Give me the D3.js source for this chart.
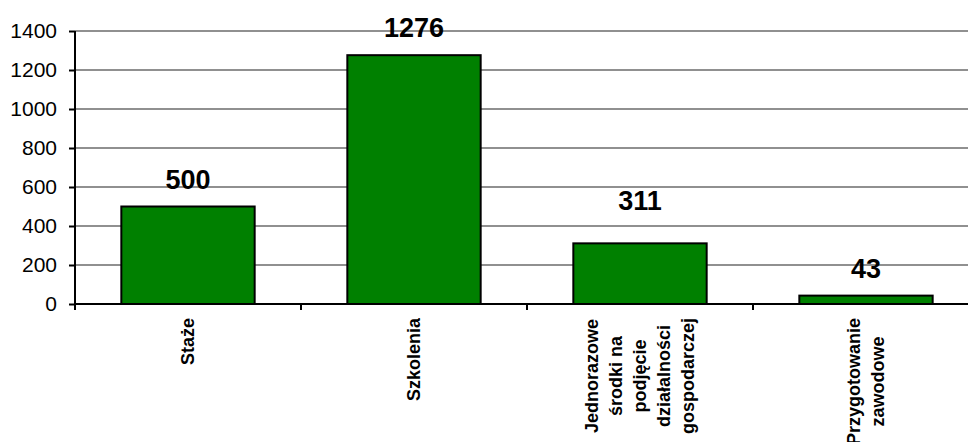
<!DOCTYPE html>
<html>
<head>
<meta charset="utf-8">
<script src="https://cdn.jsdelivr.net/npm/d3@7"></script>
<style>
  html, body { margin: 0; padding: 0; background: #fff; }
  svg { display: block; font-family: "Liberation Sans", Arial, sans-serif; }
</style>
</head>
<body>
<svg id="chart" width="968" height="442"></svg>
<script>
// ---- data ----
const categories = [
  ["Staże"],
  ["Szkolenia"],
  ["Jednorazowe", "środki na", "podjęcie", "działalności", "gospodarczej"],
  ["Przygotowanie", "zawodowe"]
];
const values = [500, 1276, 311, 43];
const yTicks = [0, 200, 400, 600, 800, 1000, 1200, 1400];

(function () {
// ---- layout ----
const svg = d3.select("#chart");
const mLeft = 75, mRight = 979, mTop = 31, mBottom = 304;
const keys = categories.map((c, i) => i);

const x = d3.scaleBand().domain(keys).range([mLeft, mRight])
  .paddingInner(0.41).paddingOuter(0.205);
const y = d3.scaleLinear().domain([0, 1400]).range([mBottom, mTop]);

// gridlines
svg.append("g").selectAll("line").data(yTicks.filter(t => t > 0)).join("line")
  .attr("x1", mLeft).attr("x2", 968)
  .attr("y1", d => y(d)).attr("y2", d => y(d))
  .attr("stroke", "#909090").attr("stroke-width", 2);

// bars
svg.append("g").selectAll("rect").data(values).join("rect")
  .attr("x", (d, i) => x(i))
  .attr("y", d => y(d))
  .attr("width", x.bandwidth())
  .attr("height", d => y(0) - y(d))
  .attr("fill", "#008000")
  .attr("stroke", "#000").attr("stroke-width", 2);

// y axis
const yAxis = d3.axisLeft(y).tickValues(yTicks).tickFormat(d3.format("d"))
  .tickSize(6).tickPadding(12).tickSizeOuter(0);
const gy = svg.append("g").attr("transform", `translate(${mLeft},0)`).call(yAxis);
gy.select(".domain").remove();
gy.selectAll(".tick line").attr("stroke", "#000").attr("stroke-width", 2);
gy.selectAll(".tick text").attr("font-size", 21).attr("fill", "#000")
  .attr("font-family", '"Liberation Sans", Arial, sans-serif');
svg.append("line").attr("x1", mLeft).attr("x2", mLeft)
  .attr("y1", mTop).attr("y2", mBottom + 6)
  .attr("stroke", "#000").attr("stroke-width", 2);

// x axis line
svg.append("line").attr("x1", mLeft).attr("x2", 968)
  .attr("y1", mBottom).attr("y2", mBottom)
  .attr("stroke", "#000").attr("stroke-width", 2);
// category boundary ticks
const gap = x.step() - x.bandwidth();
svg.append("g").selectAll("line").data(keys).join("line")
  .attr("x1", d => x(d) + x.bandwidth() + gap / 2)
  .attr("x2", d => x(d) + x.bandwidth() + gap / 2)
  .attr("y1", mBottom).attr("y2", mBottom + 6)
  .attr("stroke", "#000").attr("stroke-width", 2);

// value labels
const labelGap = [18, 18, 33, 18];
svg.append("g").selectAll("text").data(values).join("text")
  .attr("x", (d, i) => x(i) + x.bandwidth() / 2)
  .attr("y", (d, i) => y(d) - labelGap[i])
  .attr("text-anchor", "middle")
  .attr("font-size", 27).attr("font-weight", "bold").attr("fill", "#000")
  .text(d => d);

// category labels (rotated)
const lineH = 24, fs = 18, labelTop = 318;
categories.forEach((lines, i) => {
  const cx = x(i) + x.bandwidth() / 2;
  const g = svg.append("g");
  const texts = lines.map((t, j) => g.append("text")
    .attr("font-size", fs).attr("font-weight", "bold").attr("fill", "#000")
    .attr("text-anchor", "middle").attr("dominant-baseline", "central")
    .text(t));
  const maxLen = d3.max(texts, t => t.node().getComputedTextLength());
  const cy = labelTop + maxLen / 2;
  texts.forEach((t, j) => {
    const lx = cx + (j - (lines.length - 1) / 2) * lineH;
    t.attr("transform", `translate(${lx},${cy}) rotate(-90)`);
  });
});
})();
</script>
</body>
</html>
